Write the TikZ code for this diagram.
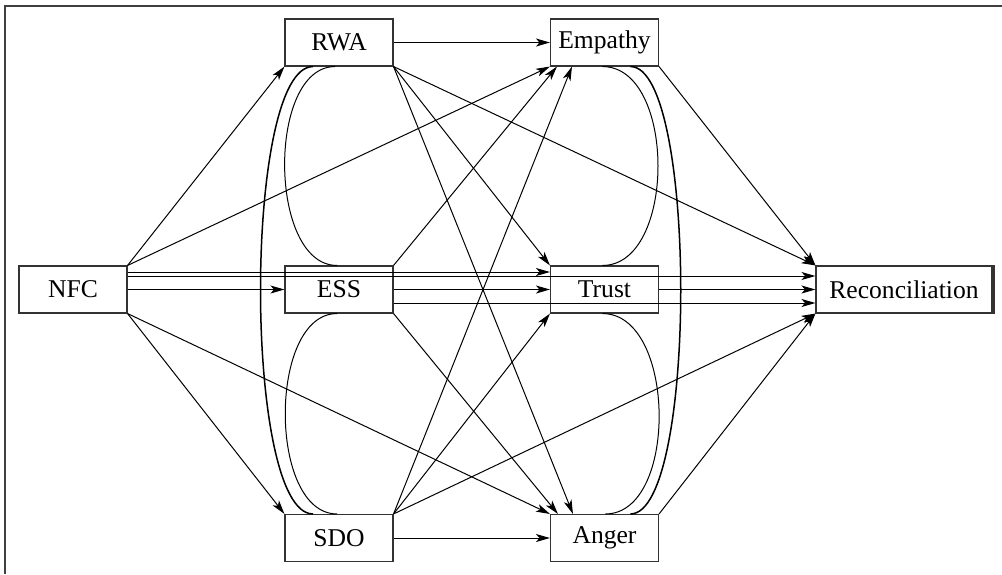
\documentclass[tikz,border=0pt]{standalone}
\usepackage{fontspec}
\setmainfont{Liberation Serif}
\usetikzlibrary{arrows.meta}

\begin{document}
\begin{tikzpicture}[x=0.5pt, y=-0.5pt,
	var/.style={rectangle, draw=black!80, line width=0.55pt, minimum width=54pt, minimum height=23.5pt, inner sep=0pt, font=\fontsize{12.8}{15}\selectfont},
	arr/.style={-{Stealth[length=7pt,width=4pt,inset=1.8pt]}, line width=0.5pt},
	cov/.style={line width=0.5pt},
	bigcov/.style={line width=0.75pt}]
	\useasboundingbox (0,0) rectangle (1002,574);
	\draw[line width=1pt, black!75] (5,574) -- (5,6) -- (1002,6);
	% variables
	\node (nfc) at (73, 289.5) [var] {NFC};
	\node (rwa) at (339, 42.5) [var] {RWA};
	\node (ess) at (339, 289.5) [var] {ESS};
	\node (sdo) at (339, 538) [var] {SDO};
		\node (emp) at (604.5, 42.5) [var] {Empathy};
		\node (trust) at (604.5, 289.5) [var] {Trust};
		\node (anger) at (604.5, 538) [var] {Anger};
			\node (rec) at (904, 289.5) [var, minimum width=88pt] {Reconciliation};
	\draw[line width=1.2pt, black!80] ([xshift=0.8pt]rec.north east) -- ([xshift=0.8pt]rec.south east);
	% covariances
	\draw[bigcov] ([xshift=-13pt]rwa.south) .. controls +(-70,0) and +(-70,0) .. ([xshift=-13pt]sdo.north);
	\draw[cov] ([xshift=-2pt]rwa.south) .. controls +(-68,0) and +(-69,0) .. ([xshift=-1pt]ess.north);
	\draw[cov] ([xshift=-1pt]ess.south) .. controls +(-69,0) and +(-69,0) .. ([xshift=-1pt]sdo.north);
	\draw[bigcov] ([xshift=13pt]emp.south) .. controls +(67,0) and +(67,0) .. ([xshift=13pt]anger.north);
	\draw[cov] ([xshift=-1pt]emp.south) .. controls +(74,0) and +(74,0) .. ([xshift=-1pt]trust.north);
	\draw[cov] ([xshift=-1pt]trust.south) .. controls +(74,0) and +(73,0) .. ([xshift=0.5pt]anger.north);
	% paths from NFC
	\draw[arr] (nfc.north east) -- (rwa.south west);
	\draw[arr] (nfc.north east) -- (emp.south west);
	\draw[arr] ([yshift=8.75pt]nfc.east) -- ([yshift=8.75pt]trust.west);
	\draw[arr] ([yshift=6.75pt]nfc.east) -- ([yshift=6.75pt]rec.west);
	\draw[arr] (nfc.east) -- (ess.west);
	\draw[arr] (nfc.south east) -- (sdo.north west);
	\draw[arr] (nfc.south east) -- (anger.north west);
	% paths from RWA
	\draw[arr] (rwa.east) -- (emp.west);
	\draw[arr] (rwa.south east) -- (trust.north west);
	\draw[arr] (rwa.south east) -- ([xshift=11.5pt]anger.north west);
	\draw[arr] (rwa.south east) -- (rec.north west);
	% paths from ESS
	\draw[arr] (ess.north east) -- ([xshift=3.5pt]emp.south west);
	\draw[arr] (ess.east) -- (trust.west);
	\draw[arr] ([yshift=-6.75pt]ess.east) -- ([yshift=-6.75pt]rec.west);
	\draw[arr] (ess.south east) -- ([xshift=4pt]anger.north west);
	% paths from SDO
	\draw[arr] (sdo.north east) -- ([xshift=11pt]emp.south west);
	\draw[arr] (sdo.north east) -- (trust.south west);
	\draw[arr] (sdo.north east) -- (rec.south west);
	\draw[arr] (sdo.east) -- (anger.west);
	% mediators to outcome
	\draw[arr] (emp.south east) -- (rec.north west);
	\draw[arr] (trust.east) -- (rec.west);
	\draw[arr] (anger.north east) -- (rec.south west);
\end{tikzpicture}
\end{document}
